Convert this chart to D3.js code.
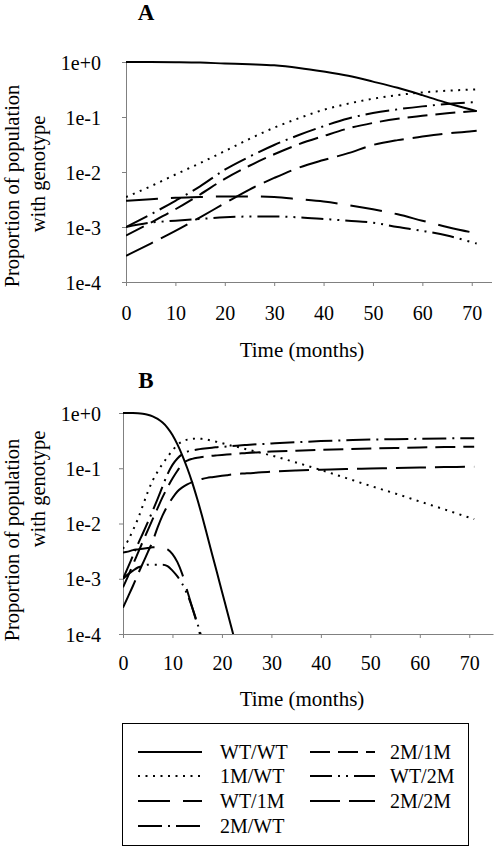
<!DOCTYPE html>
<html><head><meta charset="utf-8">
<script src="https://cdn.jsdelivr.net/npm/d3@7"></script>
<style>
html,body{margin:0;padding:0;background:#fff;}
svg text{font-family:"Liberation Serif","Times New Roman",serif;fill:#000;}
</style></head>
<body>
<svg id="c" width="497" height="847"></svg>
<script>
// ---------- data ----------
const genotypes = ["WT/WT","1M/WT","WT/1M","2M/WT","2M/1M","WT/2M","2M/2M"];
const yTickValues = [1, 0.1, 0.01, 0.001, 0.0001];
const yTickLabels = ["1e+0","1e-1","1e-2","1e-3","1e-4"];
const xTickValues = [0,10,20,30,40,50,60,70];

// Panel A
const monthsA = [0,5,10,15,20,25,30,35,40,45,50,55,60,65,70,71];
const A_WTWT = [1.0,0.998,0.99,0.975,0.94,0.91,0.87,0.78,0.67,0.56,0.44,0.34,0.25,0.18,0.135,0.128];
const A_1MWT = [0.0035,0.0055,0.009,0.0145,0.024,0.04,0.064,0.095,0.135,0.175,0.215,0.25,0.28,0.3,0.315,0.318];
const A_WT1M = [0.003,0.0032,0.0034,0.0035,0.0036,0.0036,0.0035,0.0032,0.0029,0.0025,0.0021,0.0017,0.0013,0.001,0.0008,0.00077];
const A_2MWT = [0.001,0.0017,0.003,0.0055,0.011,0.019,0.031,0.047,0.068,0.094,0.118,0.138,0.156,0.172,0.185,0.188];
const A_2M1M = [0.0007,0.0012,0.0021,0.0039,0.0075,0.013,0.021,0.032,0.045,0.062,0.078,0.093,0.105,0.117,0.127,0.129];
const A_WT2M = [0.001,0.0012,0.0013,0.0014,0.0015,0.00155,0.00155,0.0015,0.0014,0.0013,0.0012,0.001,0.00085,0.0007,0.00053,0.0005];
const A_2M2M = [0.0003,0.0005,0.00085,0.0015,0.0027,0.0048,0.0078,0.012,0.0165,0.022,0.031,0.038,0.044,0.05,0.055,0.056];

// Panel B
const monthsB = [0,1,2,3,4,5,6,7,8,9,10,11,12,13,14,15,16,17,18,19,20,21,22,23,24,25,30,35,40,45,50,55,60,65,70,71];
const B_WTWT = [1.0,0.999,0.995,0.985,0.965,0.93,0.87,0.78,0.67,0.54,0.4,0.27,0.17,0.1,0.055,0.028,0.0135,0.0062,0.0028,0.0013,0.00059,0.00027,0.000123,0.000056,null,null,null,null,null,null,null,null,null,null,null,null];
const B_1MWT = [0.0035,0.0049,0.0075,0.012,0.021,0.037,0.06,0.087,0.12,0.16,0.21,0.265,0.305,0.33,0.34,0.345,0.34,0.33,0.315,0.3,0.285,0.27,0.255,0.245,0.232,0.22,0.17,0.127,0.093,0.067,0.048,0.035,0.025,0.018,0.0128,0.012];
const B_WT1M = [0.003,0.0031,0.0033,0.0034,0.0035,0.0036,0.0037,0.0037,0.0036,0.0034,0.0028,0.002,0.0012,0.0006,0.0003,0.00015,0.00007,null,null,null,null,null,null,null,null,null,null,null,null,null,null,null,null,null,null,null];
const B_2MWT = [0.001,0.0016,0.0026,0.0042,0.0066,0.0105,0.017,0.028,0.047,0.078,0.115,0.15,0.18,0.2,0.21,0.218,0.225,0.231,0.236,0.24,0.244,0.248,0.252,0.256,0.26,0.264,0.28,0.296,0.31,0.32,0.33,0.336,0.341,0.346,0.35,0.35];
const B_2M1M = [0.0007,0.0011,0.0018,0.0029,0.0047,0.0075,0.012,0.019,0.03,0.045,0.065,0.09,0.12,0.138,0.148,0.155,0.16,0.164,0.168,0.171,0.174,0.177,0.18,0.183,0.186,0.189,0.2,0.208,0.215,0.222,0.228,0.233,0.238,0.242,0.245,0.246];
const B_WT2M = [0.001,0.0012,0.0014,0.0016,0.0017,0.0018,0.0018,0.0018,0.0018,0.0017,0.0014,0.0011,0.0008,0.00052,0.0003,0.00016,0.00008,null,null,null,null,null,null,null,null,null,null,null,null,null,null,null,null,null,null,null];
const B_2M2M = [0.0003,0.00047,0.00074,0.0012,0.0019,0.003,0.0048,0.0085,0.014,0.021,0.029,0.038,0.045,0.051,0.056,0.06,0.064,0.067,0.069,0.071,0.073,0.075,0.077,0.078,0.08,0.081,0.087,0.091,0.094,0.097,0.099,0.101,0.103,0.105,0.107,0.107];

// ---------- styles ----------
const dashes = {
  "WT/WT": null,
  "1M/WT": "2,5.5",
  "WT/1M": "32,13",
  "2M/WT": "24,6,2,6",
  "2M/1M": "20,8",
  "WT/2M": "22,6,2,6,2,6",
  "2M/2M": "30,9"
};

const svg = d3.select("#c");
const FONT = 20;

function panel(cfg) {
  const x = d3.scaleLinear().domain([0, cfg.xmax]).range([cfg.left, cfg.right]);
  const y = d3.scaleLog().domain([1e-4, 1]).range([cfg.bottom, cfg.top]);
  const g = svg.append("g");

  const clipId = "clip" + cfg.name;
  svg.append("defs").append("clipPath").attr("id", clipId)
    .append("rect").attr("x", cfg.left).attr("y", cfg.top - 3)
    .attr("width", cfg.right - cfg.left).attr("height", cfg.bottom - cfg.top + 3);

  // axes
  const yAxis = d3.axisLeft(y).tickValues(yTickValues)
    .tickFormat((d, i) => yTickLabels[i]).tickSize(4).tickSizeOuter(0);
  const ya = g.append("g").attr("transform", `translate(${cfg.left},0)`).call(yAxis);
  const xAxis = d3.axisBottom(x).tickValues(xTickValues).tickSize(4).tickSizeOuter(0);
  const xa = g.append("g").attr("transform", `translate(0,${cfg.bottom})`).call(xAxis);
  [ya, xa].forEach(a => {
    a.select(".domain").attr("stroke", "#808080").attr("stroke-width", 1);
    a.selectAll(".tick line").attr("stroke", "#808080");
    a.selectAll("text").attr("font-family", "Liberation Serif").attr("font-size", FONT).attr("fill", "#000");
  });
  ya.selectAll("text").attr("x", -(cfg.left - cfg.ylabRight)).attr("dy", "0.35em");
  xa.selectAll("text").attr("y", cfg.xlabBase - cfg.bottom).attr("dy", 0);

  // lines
  const lg = g.append("g").attr("clip-path", `url(#${clipId})`);
  cfg.series.forEach((vals, i) => {
    const pts = cfg.months.map((m, j) => ({m, v: vals[j]}));
    const line = d3.line().defined(d => d.v != null)
      .x(d => x(d.m)).y(d => y(d.v)).curve(d3.curveMonotoneX);
    const name = genotypes[i];
    lg.append("path").datum(pts).attr("d", line)
      .attr("fill", "none").attr("stroke", "#000").attr("stroke-width", 2)
      .attr("stroke-dasharray", dashes[name]);
  });

  // titles
  g.append("text").attr("x", cfg.titleX).attr("y", cfg.titleY).attr("text-anchor", "middle")
    .attr("font-weight", "bold").attr("font-size", 23).text(cfg.name);
  g.append("text").attr("x", 302).attr("y", cfg.xtitleY).attr("text-anchor", "middle")
    .attr("font-size", 21).text("Time (months)");
  g.append("text").attr("transform", `translate(19,${cfg.yt1})rotate(-90)`)
    .attr("text-anchor", "middle").attr("font-size", 20.5).text("Proportion of population");
  g.append("text").attr("transform", `translate(45,${cfg.yt2})rotate(-90)`)
    .attr("text-anchor", "middle").attr("font-size", 20.5).text("with genotype");
}

panel({name: "A", months: monthsA,
  series: [A_WTWT, A_1MWT, A_WT1M, A_2MWT, A_2M1M, A_WT2M, A_2M2M],
  left: 126, right: 491.5, xmax: 74, top: 62, bottom: 282, ylabRight: 101,
  xlabBase: 320, titleX: 146, titleY: 20, xtitleY: 357, yt1: 186, yt2: 174});

panel({name: "B", months: monthsB,
  series: [B_WTWT, B_1MWT, B_WT1M, B_2MWT, B_2M1M, B_WT2M, B_2M2M],
  left: 123, right: 493, xmax: 74.8, top: 413, bottom: 634, ylabRight: 101,
  xlabBase: 670, titleX: 146, titleY: 388, xtitleY: 706, yt1: 540, yt2: 489});

// ---------- legend ----------
const leg = svg.append("g");
leg.append("rect").attr("x", 122.5).attr("y", 723.5).attr("width", 346).attr("height", 122)
  .attr("fill", "none").attr("stroke", "#000").attr("stroke-width", 1);
const legendCols = [["WT/WT","1M/WT","WT/1M","2M/WT"], ["2M/1M","WT/2M","2M/2M"]];
const colLineX = [[138, 202], [310, 375]];
const colTextX = [220, 390];
const rowY = [752, 776, 801, 826];
legendCols.forEach((col, ci) => {
  col.forEach((name, ri) => {
    leg.append("line").attr("x1", colLineX[ci][0]).attr("x2", colLineX[ci][1])
      .attr("y1", rowY[ri]).attr("y2", rowY[ri])
      .attr("stroke", "#000").attr("stroke-width", 2).attr("stroke-dasharray", dashes[name]);
    leg.append("text").attr("x", colTextX[ci]).attr("y", rowY[ri] + 7)
      .attr("font-size", 20).text(name);
  });
});
</script>
</body></html>
